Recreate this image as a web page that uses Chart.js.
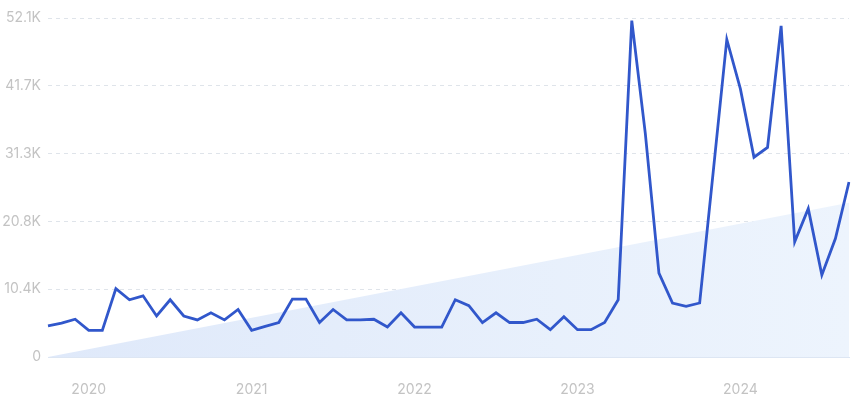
<!DOCTYPE html>
<html>
<head>
<meta charset="utf-8">
<script src="https://cdn.jsdelivr.net/npm/chart.js@4"></script>
<style>
  html, body { margin: 0; padding: 0; background: #fff; }
  #wrap { width: 856px; height: 401px; }
</style>
</head>
<body>
<div id="wrap"><canvas id="trendChart" width="856" height="401"></canvas></div>
<script>
// months Oct 2019 .. Sep 2024
var months = [];
for (var y = 2019; y <= 2024; y++) {
    for (var m = 1; m <= 12; m++) {
        if ((y === 2019 && m < 10) || (y === 2024 && m > 9)) continue;
        months.push(y + '-' + (m < 10 ? '0' + m : m));
    }
}

var searches = [
    4800, 5200, 5800,
    4100, 4100, 10500, 8800, 9400, 6300, 8800, 6300, 5700, 6800, 5700, 7300,
    4100, 4700, 5300, 8900, 8900, 5300, 7300, 5700, 5700, 5800, 4600, 6800,
    4600, 4600, 4600, 8800, 7900, 5300, 6800, 5300, 5300, 5800, 4200, 6200,
    4200, 4200, 5300, 8800, 51700, 34300, 12900, 8300, 7800, 8300, 28500, 48800,
    41200, 30700, 32200, 50900, 17700, 22800, 12600, 18200, 26900
];

// trend line: only the two ends are known, gaps spanned
var trendEnds = [0, 23700];
var trend = months.map(function (d, i) {
    if (i === 0) return trendEnds[0];
    if (i === months.length - 1) return trendEnds[1];
    return null;
});

var yTicks = [0, 10420, 20840, 31260, 41680, 52100];
var yTickLabels = ['0', '10.4K', '20.8K', '31.3K', '41.7K', '52.1K'];

var ctx = document.getElementById('trendChart').getContext('2d');
var trendChart = new Chart(ctx, {
    type: 'line',
    data: {
        labels: months,
        datasets: [{
            label: 'Searches',
            data: searches,
            borderColor: '#3157cb',
            borderWidth: 2.8,
            pointRadius: 0,
            tension: 0,
            fill: false,
            order: 1
        }, {
            label: 'Trend',
            data: trend,
            spanGaps: true,
            borderWidth: 0,
            borderColor: 'rgba(0,0,0,0)',
            pointRadius: 0,
            fill: 'origin',
            backgroundColor: function (c) {
                var area = c.chart.chartArea;
                if (!area) return '#e4edfb';
                var g = c.chart.ctx.createLinearGradient(area.left, 0, area.right, 0);
                g.addColorStop(0, '#dfe9fa');
                g.addColorStop(1, '#edf4fd');
                return g;
            },
            order: 2
        }]
    },
    options: {
        responsive: false,
        animation: false,
        layout: { padding: { top: 18, right: 7, left: 0, bottom: 0 } },
        plugins: { legend: { display: false }, tooltip: { enabled: false } },
        scales: {
            x: {
                offset: false,
                grid: { display: false },
                border: { display: true, color: '#dde6f3', width: 1 },
                ticks: {
                    autoSkip: false,
                    maxRotation: 0,
                    color: '#c3c3c3',
                    font: { family: 'Inter', size: 14 },
                    padding: 16,
                    callback: function (v, i) {
                        var s = months[i];
                        return s.slice(5) === '01' ? s.slice(0, 4) : '';
                    }
                },
                afterFit: function (s) {
                    s.height = 44;
                    s.paddingLeft = 0;
                    s.paddingRight = 0;
                }
            },
            y: {
                min: 0,
                max: 52100,
                afterBuildTicks: function (s) {
                    s.ticks = yTicks.map(function (v) { return { value: v }; });
                },
                grid: {
                    drawTicks: false,
                    color: function (c) { return c.tick && c.tick.value === 0 ? 'rgba(0,0,0,0)' : '#dfe4ea'; }
                },
                border: { display: false, dash: [4, 4] },
                ticks: {
                    color: '#c3c3c3',
                    font: { family: 'Inter', size: 14 },
                    padding: 7,
                    callback: function (v, i) { return yTickLabels[i]; }
                },
                afterFit: function (s) { s.width = 48; }
            }
        }
    }
});
</script>
</body>
</html>
